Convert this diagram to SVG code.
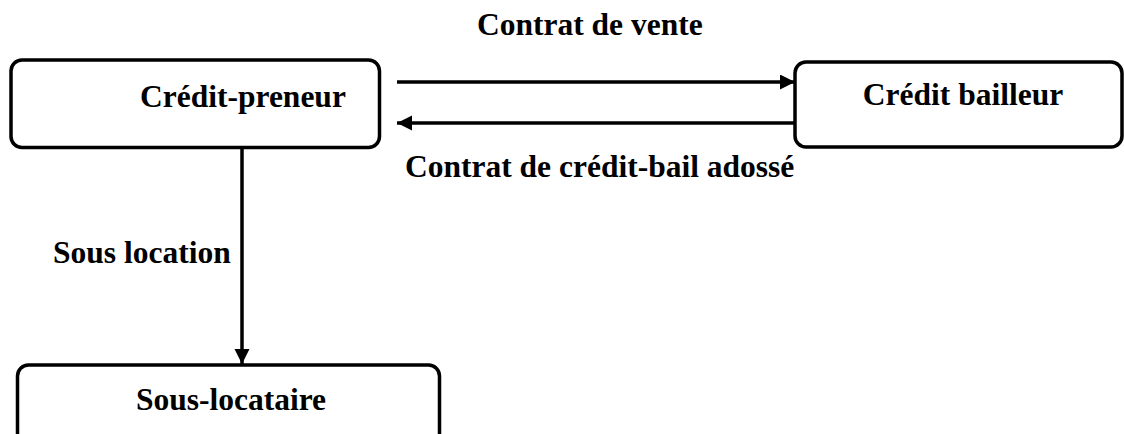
<svg xmlns="http://www.w3.org/2000/svg" width="1124" height="434" viewBox="0 0 1124 434">
<style>
.box{fill:#fff;stroke:#000;stroke-width:3.5}
.t{font-family:"Liberation Serif","Times New Roman",serif;font-weight:bold;font-size:31.5px;fill:#000}
.c{stroke:#000;stroke-width:3.5;fill:none}
</style>
<defs>
<marker id="ah" markerUnits="userSpaceOnUse" markerWidth="16" markerHeight="16" refX="15" refY="7.5" orient="auto">
<path d="M0,0 L15,7.5 L0,15 z" fill="#000"/>
</marker>
</defs>
<rect width="1124" height="434" fill="#fff"/>
<g id="connectors">
<line class="c" x1="397" y1="82" x2="795" y2="82" marker-end="url(#ah)"/>
<line class="c" x1="795" y1="123" x2="397" y2="123" marker-end="url(#ah)"/>
<line class="c" x1="242" y1="148" x2="242" y2="364" marker-end="url(#ah)"/>
<text class="t" x="477" y="35">Contrat de vente</text>
<text class="t" x="405" y="177">Contrat de crédit-bail adossé</text>
<text class="t" x="53" y="263">Sous location</text>
</g>
<g id="credit-preneur">
<rect class="box" x="11" y="60" width="368.5" height="87.5" rx="11"/>
<text class="t" x="140" y="107">Crédit-preneur</text>
</g>
<g id="credit-bailleur">
<rect class="box" x="795" y="62" width="327" height="85" rx="11"/>
<text class="t" x="963" y="105" text-anchor="middle">Crédit bailleur</text>
</g>
<g id="sous-locataire">
<rect class="box" x="17.5" y="365" width="422" height="90" rx="11"/>
<text class="t" x="231" y="410" text-anchor="middle">Sous-locataire</text>
</g>
</svg>
